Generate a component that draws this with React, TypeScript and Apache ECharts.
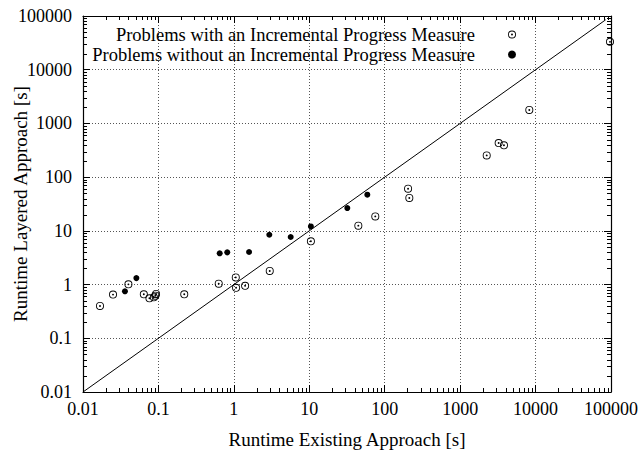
import React, { useEffect, useRef } from "react";
import * as echarts from "echarts";

// ---- data ----
const withMeasureX = [0.0168, 0.025, 0.04, 0.064, 0.076, 0.087, 0.091, 0.093, 0.22, 0.63, 1.06, 1.07, 1.41, 2.99, 10.5, 44.7, 75, 204, 212, 2250, 3240, 3810, 8260, 97000];
const withMeasureY = [0.4, 0.65, 1.01, 0.66, 0.555, 0.58, 0.62, 0.67, 0.66, 1.04, 1.36, 0.87, 0.95, 1.79, 6.4, 12.5, 18.6, 61, 41, 254, 432, 391, 1780, 33000];
const withoutMeasureX = [0.036, 0.051, 0.649, 0.818, 1.59, 2.95, 5.67, 10.5, 31.9, 58.8];
const withoutMeasureY = [0.75, 1.32, 3.82, 3.98, 4.04, 8.47, 7.68, 12.1, 26.6, 47.1];
const diagonalX = [0.01, 85000];
const axisMin = 0.01;
const axisMax = 100000;
const decades = [0.01, 0.1, 1, 10, 100, 1000, 10000];
const minorMultipliers = [2, 3, 4, 5, 6, 7, 8, 9];
const seriesNames = [
  "Problems with an Incremental Progress Measure",
  "Problems without an Incremental Progress Measure",
];
const xAxisTitle = "Runtime Existing Approach [s]";
const yAxisTitle = "Runtime Layered Approach [s]";

const FONT = "Liberation Serif";
const RING =
  "path://M50 0A50 50 0 1 1 50 100A50 50 0 1 1 50 0ZM50 11A39 39 0 1 0 50 89A39 39 0 1 0 50 11ZM50 38A12 12 0 1 1 50 62A12 12 0 1 1 50 38Z";

const fmt = (v: number) => String(Number(v.toPrecision(4)));

const minorValues: number[][] = [];
decades.forEach((d) =>
  minorMultipliers.forEach((m) => {
    const v = Number((d * m).toPrecision(3));
    minorValues.push([v, v]);
  })
);

function makeAxis(kind: "x" | "y", mirror: boolean) {
  const base: any = {
    type: "log",
    logBase: 10,
    min: axisMin,
    max: axisMax,
    splitNumber: 7,
    axisLine: { show: true, onZero: false, lineStyle: { color: "#000", width: 1.2 } },
    axisTick: { show: true, inside: true, length: 7, lineStyle: { color: "#000", width: 1 } },
    minorTick: { show: false },
    minorSplitLine: { show: false },
    axisLabel: {
      show: !mirror,
      formatter: fmt,
      fontFamily: FONT,
      fontSize: 18,
      color: "#000",
      margin: kind === "x" ? 8 : 11,
    },
    splitLine: {
      show: !mirror,
      lineStyle: { color: "#555", width: 1, type: [1, 2] },
    },
  };
  if (kind === "x") {
    base.position = mirror ? "top" : "bottom";
    if (!mirror) {
      base.name = xAxisTitle;
      base.nameLocation = "middle";
      base.nameGap = 38;
      base.nameMoveOverlap = false;
      base.nameTextStyle = { fontFamily: FONT, fontSize: 19, color: "#000" };
    }
  } else {
    base.position = mirror ? "right" : "left";
    if (!mirror) {
      base.name = yAxisTitle;
      base.nameLocation = "middle";
      base.nameGap = 53;
      base.nameMoveOverlap = false;
      base.nameTextStyle = { fontFamily: FONT, fontSize: 19, color: "#000" };
    }
  }
  return base;
}

export default function App() {
  const ref = useRef<HTMLDivElement>(null);
  useEffect(() => {
    document.body.style.margin = "0";
    if (!ref.current) return;
    const chart = echarts.init(ref.current, null, { renderer: "svg" });
    chart.setOption({
      animation: false,
      backgroundColor: "#fff",
      grid: { left: 83, right: 31, top: 16, bottom: 58, containLabel: false, outerBoundsMode: "none" },
      xAxis: [makeAxis("x", false), makeAxis("x", true)],
      yAxis: [makeAxis("y", false), makeAxis("y", true)],
      legend: {
        data: [
          { name: seriesNames[0], icon: RING },
          { name: seriesNames[1], icon: "circle" },
        ],
        orient: "vertical",
        align: "right",
        right: 126,
        top: 25,
        itemWidth: 64,
        itemHeight: 8,
        itemGap: 1,
        padding: 0,
        selectedMode: false,
        textStyle: { fontFamily: FONT, fontSize: 18.5, color: "#000" },
      },
      series: [
        {
          type: "custom",
          name: "minorTicks",
          coordinateSystem: "cartesian2d",
          xAxisIndex: 0,
          yAxisIndex: 0,
          silent: true,
          clip: false,
          data: minorValues,
          renderItem: (params: any, api: any) => {
            const pt = api.coord([api.value(0), api.value(1)]);
            const px = Math.round(pt[0]) + 0.5;
            const py = Math.round(pt[1]) + 0.5;
            const cs = params.coordSys;
            const L = cs.x, R = cs.x + cs.width, T = cs.y, B = cs.y + cs.height;
            const len = 4;
            const st = { stroke: "#000", lineWidth: 1 };
            return {
              type: "group",
              children: [
                { type: "line", shape: { x1: px, y1: B, x2: px, y2: B - len }, style: st },
                { type: "line", shape: { x1: px, y1: T, x2: px, y2: T + len }, style: st },
                { type: "line", shape: { x1: L, y1: py, x2: L + len, y2: py }, style: st },
                { type: "line", shape: { x1: R, y1: py, x2: R - len, y2: py }, style: st },
              ],
            };
          },
          z: 5,
        },
        {
          type: "line",
          name: "diagonal",
          data: diagonalX.map((v) => [v, v]),
          showSymbol: false,
          symbol: "none",
          silent: true,
          lineStyle: { color: "#000", width: 1 },
          z: 1,
        },
        {
          type: "scatter",
          name: seriesNames[0],
          data: withMeasureX.map((x, i) => [x, withMeasureY[i]]),
          symbol: RING,
          symbolSize: 8,
          itemStyle: { color: "#000", opacity: 1 },
          z: 3,
        },
        {
          type: "scatter",
          name: seriesNames[1],
          data: withoutMeasureX.map((x, i) => [x, withoutMeasureY[i]]),
          symbol: "circle",
          symbolSize: 6,
          itemStyle: { color: "#000", opacity: 1 },
          z: 3,
        },
      ],
    });
    return () => chart.dispose();
  }, []);
  return <div ref={ref} style={{ width: 642, height: 450 }} />;
}
